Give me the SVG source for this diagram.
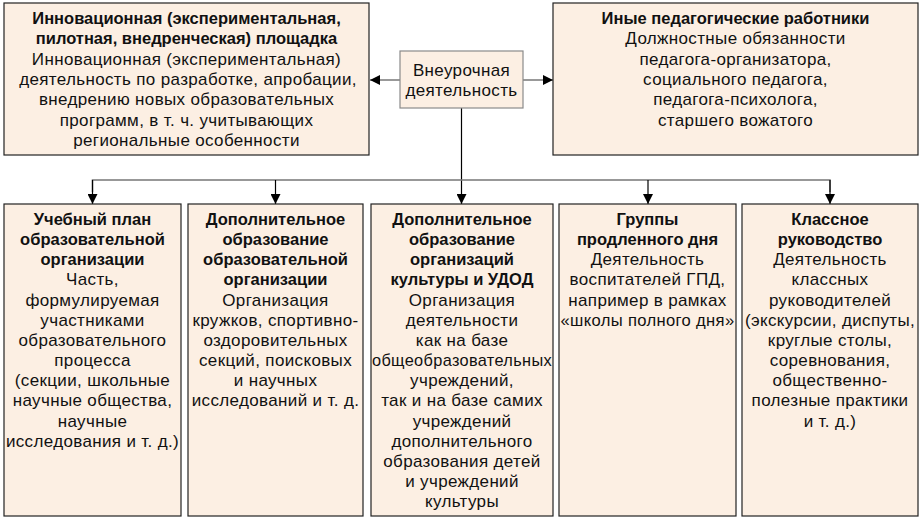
<svg xmlns="http://www.w3.org/2000/svg" width="921" height="520" viewBox="0 0 921 520">
<defs>
<marker id="ah" viewBox="0 0 10 10" refX="10" refY="5" markerWidth="10" markerHeight="10" markerUnits="userSpaceOnUse" orient="auto">
<path d="M0,0 L10,5 L0,10 z" fill="#000"/>
</marker>
</defs>
<style>
.box{fill:#fcefe3;stroke:#222;stroke-width:1.2}
.cbox{fill:#fcefe3;stroke:#8a8a8a;stroke-width:1.2}
text{font-family:"Liberation Sans",Arial,sans-serif;font-size:17px;letter-spacing:0.35px;fill:#111;text-anchor:middle}
.b{font-size:16.5px;letter-spacing:0;font-weight:bold}
.line{fill:none;stroke:#777;stroke-width:1.5}
.dk{fill:none;stroke:#000;stroke-width:1.2}
</style>
<rect width="921" height="520" fill="#fff"/>
<g id="connectors">
<line class="line" x1="400" y1="80" x2="370" y2="80" marker-end="url(#ah)"/>
<line class="line" x1="523" y1="80" x2="553" y2="80" marker-end="url(#ah)"/>
<line class="dk" x1="461.5" y1="108" x2="461.5" y2="204" marker-end="url(#ah)"/>
<polyline class="line" points="92.5,192 92.5,180 830,180 830,192"/>
<line class="dk" x1="92.5" y1="180" x2="92.5" y2="204" marker-end="url(#ah)"/>
<line class="dk" x1="275.5" y1="180" x2="275.5" y2="204" marker-end="url(#ah)"/>
<line class="dk" x1="648" y1="180" x2="648" y2="204" marker-end="url(#ah)"/>
<line class="dk" x1="830" y1="180" x2="830" y2="204" marker-end="url(#ah)"/>
</g>
<g id="node-innov">
<rect class="box" x="4" y="3" width="365" height="152"/>
<text x="186.5" y="24" class="b">Инновационная (экспериментальная,</text>
<text x="186.5" y="44.3" class="b">пилотная, внедренческая) площадка</text>
<text x="186.5" y="64.7">Инновационная (экспериментальная)</text>
<text x="188" y="85">деятельность по разработке, апробации,</text>
<text x="186.5" y="105.3">внедрению новых образовательных</text>
<text x="186.5" y="125.7">программ, в т. ч. учитывающих</text>
<text x="186.5" y="146">региональные особенности</text>
</g>
<g id="node-center">
<rect class="cbox" x="400" y="51" width="123" height="57"/>
<text x="461.5" y="76">Внеурочная</text>
<text x="461.5" y="96">деятельность</text>
</g>
<g id="node-other">
<rect class="box" x="553" y="3" width="365" height="152"/>
<text x="735.5" y="24" class="b">Иные педагогические работники</text>
<text x="735.5" y="44.3">Должностные обязанности</text>
<text x="735.5" y="64.7">педагога-организатора,</text>
<text x="735.5" y="85">социального педагога,</text>
<text x="735.5" y="105.3">педагога-психолога,</text>
<text x="735.5" y="125.7">старшего вожатого</text>
</g>
<g id="node-plan">
<rect class="box" x="4" y="204" width="177" height="312"/>
<text x="92.5" y="225" class="b">Учебный план</text>
<text x="92.5" y="245.1" class="b">образовательной</text>
<text x="92.5" y="265.3" class="b">организации</text>
<text x="92.5" y="285.4">Часть,</text>
<text x="92.5" y="305.6">формулируемая</text>
<text x="92.5" y="325.7">участниками</text>
<text x="92.5" y="345.9">образовательного</text>
<text x="92.5" y="366">процесса</text>
<text x="92.5" y="386.2">(секции, школьные</text>
<text x="92.5" y="406.3">научные общества,</text>
<text x="92.5" y="426.5">научные</text>
<text x="92.5" y="446.6">исследования и т. д.)</text>
</g>
<g id="node-dop-org">
<rect class="box" x="188" y="204" width="175" height="312"/>
<text x="275.5" y="225" class="b">Дополнительное</text>
<text x="275.5" y="245.1" class="b">образование</text>
<text x="275.5" y="265.3" class="b">образовательной</text>
<text x="275.5" y="285.4" class="b">организации</text>
<text x="275.5" y="305.6">Организация</text>
<text x="275.5" y="325.7">кружков, спортивно-</text>
<text x="275.5" y="345.9">оздоровительных</text>
<text x="275.5" y="366">секций, поисковых</text>
<text x="275.5" y="386.2">и научных</text>
<text x="275.5" y="406.3">исследований и т. д.</text>
</g>
<g id="node-dop-cult">
<rect class="box" x="371" y="204" width="182" height="312"/>
<text x="462" y="225" class="b">Дополнительное</text>
<text x="462" y="245.1" class="b">образование</text>
<text x="462" y="265.3" class="b">организаций</text>
<text x="462" y="285.4" class="b">культуры и УДОД</text>
<text x="462" y="305.6">Организация</text>
<text x="462" y="325.7">деятельности</text>
<text x="462" y="345.9">как на базе</text>
<text x="462" y="366" textLength="180" lengthAdjust="spacingAndGlyphs">общеобразовательных</text>
<text x="462" y="386.2">учреждений,</text>
<text x="462" y="406.3">так и на базе самих</text>
<text x="462" y="426.5">учреждений</text>
<text x="462" y="446.6">дополнительного</text>
<text x="462" y="466.8">образования детей</text>
<text x="462" y="486.9">и учреждений</text>
<text x="462" y="507">культуры</text>
</g>
<g id="node-gpd">
<rect class="box" x="559" y="204" width="177" height="312"/>
<text x="647.5" y="225" class="b">Группы</text>
<text x="647.5" y="245.1" class="b">продленного дня</text>
<text x="647.5" y="265.3">Деятельность</text>
<text x="647.5" y="285.4">воспитателей ГПД,</text>
<text x="647.5" y="305.6">например в рамках</text>
<text x="647.5" y="325.7" textLength="174" lengthAdjust="spacingAndGlyphs">«школы полного дня»</text>
</g>
<g id="node-class">
<rect class="box" x="742" y="204" width="176" height="312"/>
<text x="830" y="225" class="b">Классное</text>
<text x="830" y="245.1" class="b">руководство</text>
<text x="830" y="265.3">Деятельность</text>
<text x="830" y="285.4">классных</text>
<text x="830" y="305.6">руководителей</text>
<text x="830" y="325.7">(экскурсии, диспуты,</text>
<text x="830" y="345.9">круглые столы,</text>
<text x="830" y="366">соревнования,</text>
<text x="830" y="386.2">общественно-</text>
<text x="830" y="406.3">полезные практики</text>
<text x="830" y="426.5">и т. д.)</text>
</g>
</svg>
